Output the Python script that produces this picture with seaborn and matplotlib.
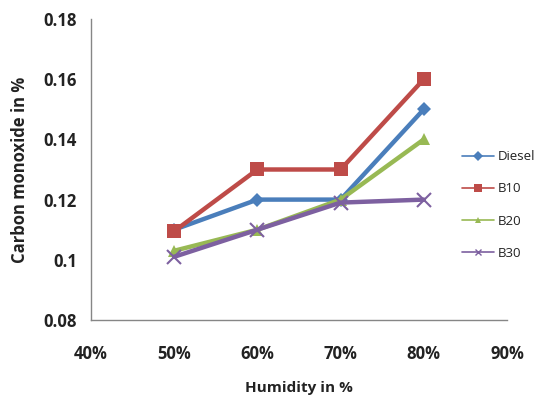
import matplotlib
matplotlib.use("Agg")
import matplotlib.pyplot as plt
import seaborn as sns
import pandas as pd
from matplotlib.ticker import FuncFormatter
from matplotlib.lines import Line2D

humidity = [50, 60, 70, 80]
diesel = [0.110, 0.120, 0.120, 0.150]
b10 = [0.1095, 0.130, 0.130, 0.160]
b20 = [0.103, 0.110, 0.120, 0.140]
b30 = [0.101, 0.110, 0.119, 0.120]
series_names = ["Diesel", "B10", "B20", "B30"]
x_ticks = [40, 50, 60, 70, 80, 90]
y_ticks = [0.08, 0.10, 0.12, 0.14, 0.16, 0.18]

rows = []
for name, vals in zip(series_names, [diesel, b10, b20, b30]):
    for h, v in zip(humidity, vals):
        rows.append({"Humidity": h, "CO": v, "Fuel": name})
df = pd.DataFrame(rows)

sns.set_theme(style="white")
plt.rcParams["font.family"] = ["Open Sans", "DejaVu Sans"]

palette = {"Diesel": "#4A7EBB", "B10": "#BE4B48", "B20": "#98B954", "B30": "#7D60A0"}
markers = {"Diesel": "D", "B10": "s", "B20": "^", "B30": "x"}
msizes = {"Diesel": 7, "B10": 10, "B20": 9, "B30": 10}

fig = plt.figure(figsize=(5.36, 3.99), dpi=100)
ax = fig.add_axes([91 / 536, 1 - 320 / 399, (507 - 91) / 536, (320 - 19) / 399])

for name in series_names:
    sub = df[df["Fuel"] == name]
    sns.lineplot(data=sub, x="Humidity", y="CO", ax=ax, color=palette[name],
                 marker=markers[name], markersize=msizes[name], linewidth=3.2,
                 markeredgewidth=1.5 if name == "B30" else 0,
                 markeredgecolor=palette[name], label=name, legend=False)

ax.set_xlim(40, 90)
ax.set_ylim(0.08, 0.18)
ax.set_xticks(x_ticks)
ax.set_yticks(y_ticks)
ax.xaxis.set_major_formatter(FuncFormatter(lambda v, p: f"{int(v)}%"))
ax.yaxis.set_major_formatter(FuncFormatter(lambda v, p: f"{v:g}"))
for s in ["top", "right"]:
    ax.spines[s].set_visible(False)
for s in ["left", "bottom"]:
    ax.spines[s].set_color("#868686")
    ax.spines[s].set_linewidth(1)
ax.tick_params(axis="both", which="major", direction="out", length=5, width=1,
               color="#868686", labelsize=12, labelcolor="#222222")
ax.tick_params(axis="x", pad=13)
ax.tick_params(axis="y", pad=5)
for lab in ax.get_xticklabels() + ax.get_yticklabels():
    lab.set_fontweight("bold")

ax.set_xlabel("Humidity in %", fontsize=11, fontweight="bold", color="#222222")
ax.set_ylabel("Carbon monoxide in %", fontsize=12, fontweight="bold", color="#222222")
ax.xaxis.set_label_coords(0.5, -(388 - 320) / 301, transform=ax.transAxes)
ax.yaxis.set_label_coords(-(91 - 20) / 416, 0.5, transform=ax.transAxes)
ax.xaxis.label.set_va("center")
ax.yaxis.label.set_va("center")

handles = []
for name in series_names:
    handles.append(Line2D([0], [0], color=palette[name], linewidth=1.2,
                          marker=markers[name], markersize=6 if name == "B10" else 5,
                          markeredgewidth=1 if name == "B30" else 0,
                          markeredgecolor=palette[name]))
leg = fig.legend(handles, series_names, loc="center left",
                 bbox_to_anchor=(450 / 536, 1 - 205 / 399), frameon=False,
                 fontsize=9.5, handlelength=2.4, labelspacing=1.45, handletextpad=0.3)
for t in leg.get_texts():
    t.set_color("#222222")

fig.savefig("out.png", dpi=100)
